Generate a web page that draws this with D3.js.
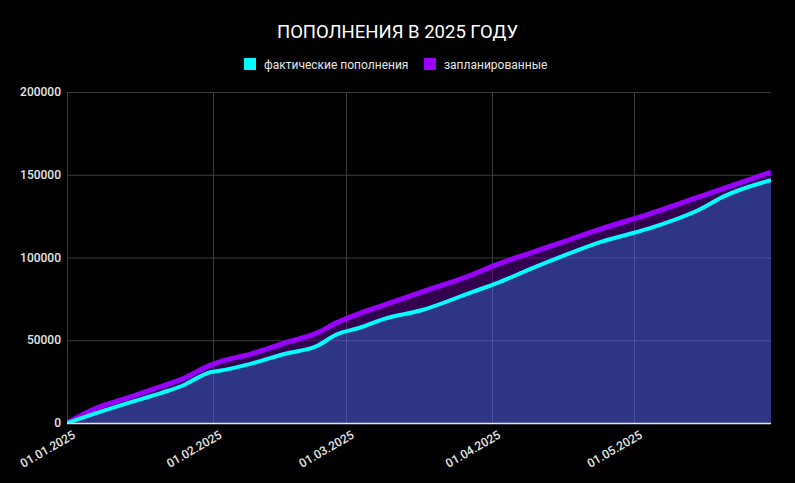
<!DOCTYPE html>
<html><head><meta charset="utf-8">
<script src="https://cdn.jsdelivr.net/npm/d3@7"></script>
<style>
html,body{margin:0;padding:0;background:#000;}
svg{display:block;font-family:Roboto,"Noto Sans",sans-serif;}
</style></head>
<body>
<script>
const title = "ПОПОЛНЕНИЯ В 2025 ГОДУ";
const seriesNames = ["фактические пополнения", "запланированные"];
const dates = ["2025-01-01","2025-01-07","2025-01-14","2025-01-21","2025-01-26","2025-01-29","2025-01-31",
  "2025-02-02","2025-02-09","2025-02-16","2025-02-23","2025-02-27","2025-03-04","2025-03-09","2025-03-17",
  "2025-03-28","2025-04-02","2025-04-09","2025-04-16","2025-04-24","2025-05-04","2025-05-15","2025-05-20","2025-05-30"];
const actual = [0,5800,12200,18200,23300,27900,30400,31400,35900,41700,46700,53400,57600,62800,68100,
  79400,84500,93000,101000,109400,117400,129200,136900,146700];
const planned = [0,8800,15300,22200,27300,31800,34500,36700,41800,48300,54500,60500,66300,71200,79100,
  89900,95800,102700,109500,117300,126100,136900,141800,151600];
const yTicks = [0,50000,100000,150000,200000];
const xTicks = ["2025-01-01","2025-02-01","2025-03-01","2025-04-01","2025-05-01"];

const W = 795, H = 483;
const m = {l:67, r:24, t:92, b:60};
const parse = d3.timeParse("%Y-%m-%d");
const fmt = d3.timeFormat("%d.%m.%Y");
const data = dates.map((d,i)=>({d:parse(d), a:actual[i], p:planned[i]}));

const x = d3.scaleTime().domain([parse(dates[0]), parse(dates[dates.length-1])]).range([m.l, W-m.r]);
const y = d3.scaleLinear().domain([0,200000]).range([H-m.b, m.t]);

const svg = d3.select("body").append("svg").attr("width",W).attr("height",H);
svg.append("rect").attr("width",W).attr("height",H).attr("fill","#000");

svg.append("text").attr("x",W/2).attr("y",38).attr("text-anchor","middle")
  .attr("fill","#fff").attr("font-size",18.5).text(title);

// legend
const leg = [{n:seriesNames[0], c:"#00ffff", x:244},{n:seriesNames[1], c:"#9900ff", x:424}];
leg.forEach(l=>{
  svg.append("rect").attr("x",l.x).attr("y",58).attr("width",12).attr("height",12).attr("fill",l.c);
  svg.append("text").attr("x",l.x+20).attr("y",68.5).attr("fill","#e8e8e8").attr("font-size",12).text(l.n);
});

const defs = svg.append("defs");
defs.append("clipPath").attr("id","plot").append("rect")
  .attr("x",m.l).attr("y",m.t-10).attr("width",W-m.r-m.l).attr("height",H-m.b-m.t+10);

function grid(g, color){
  g.selectAll(".h").data(yTicks).join("line")
    .attr("x1",m.l).attr("x2",W-m.r).attr("y1",d=>y(d)+0.5).attr("y2",d=>y(d)+0.5)
    .attr("stroke",color).attr("stroke-width",1);
  g.selectAll(".v").data(xTicks).join("line").attr("class","v")
    .attr("x1",d=>Math.round(x(parse(d)))+0.5).attr("x2",d=>Math.round(x(parse(d)))+0.5)
    .attr("y1",m.t).attr("y2",H-m.b)
    .attr("stroke",color).attr("stroke-width",1);
}
grid(svg.append("g"), "#3c3c3c");

const curve = d3.curveMonotoneX;
const areaP = d3.area().x(d=>x(d.d)).y0(y(0)).y1(d=>y(d.p)).curve(curve);
const areaA = d3.area().x(d=>x(d.d)).y0(y(0)).y1(d=>y(d.a)).curve(curve);
const lineP = d3.line().x(d=>x(d.d)).y(d=>y(d.p)).curve(curve);
const lineA = d3.line().x(d=>x(d.d)).y(d=>y(d.a)).curve(curve);

const pg = svg.append("g").attr("clip-path","url(#plot)");
pg.append("path").datum(data).attr("d",areaP).attr("fill","#32004f");
pg.append("path").datum(data).attr("d",areaA).attr("fill","#2e3584");

defs.append("clipPath").attr("id","fillclip").append("path").datum(data).attr("d",areaP);
const g2 = pg.append("g").attr("clip-path","url(#fillclip)");
grid(g2, "rgba(255,255,255,0.14)");

pg.append("path").datum(data).attr("d",lineP).attr("fill","none").attr("stroke","#9900ff").attr("stroke-width",5);
pg.append("path").datum(data).attr("d",lineA).attr("fill","none").attr("stroke","#00ffff").attr("stroke-width",4);

// x axis line
svg.append("line").attr("x1",m.l).attr("x2",W-m.r).attr("y1",y(0)+0.5).attr("y2",y(0)+0.5)
  .attr("stroke","#e6e6e6").attr("stroke-width",1.5);

// y labels
svg.selectAll(".yl").data(yTicks).join("text")
  .attr("x",m.l-6).attr("y",d=>y(d)+4).attr("text-anchor","end")
  .attr("fill","#e6e6e6").attr("font-size",12).attr("font-weight",500).text(d=>d);

// x labels
svg.selectAll(".xl").data(xTicks).join("text")
  .attr("transform",d=>`translate(${x(parse(d))+5},${y(0)+7}) rotate(-30)`)
  .attr("text-anchor","end").attr("dy","0.71em").attr("fill","#e6e6e6").attr("font-size",12).attr("font-weight",500)
  .text(d=>fmt(parse(d)));
</script>
</body></html>
